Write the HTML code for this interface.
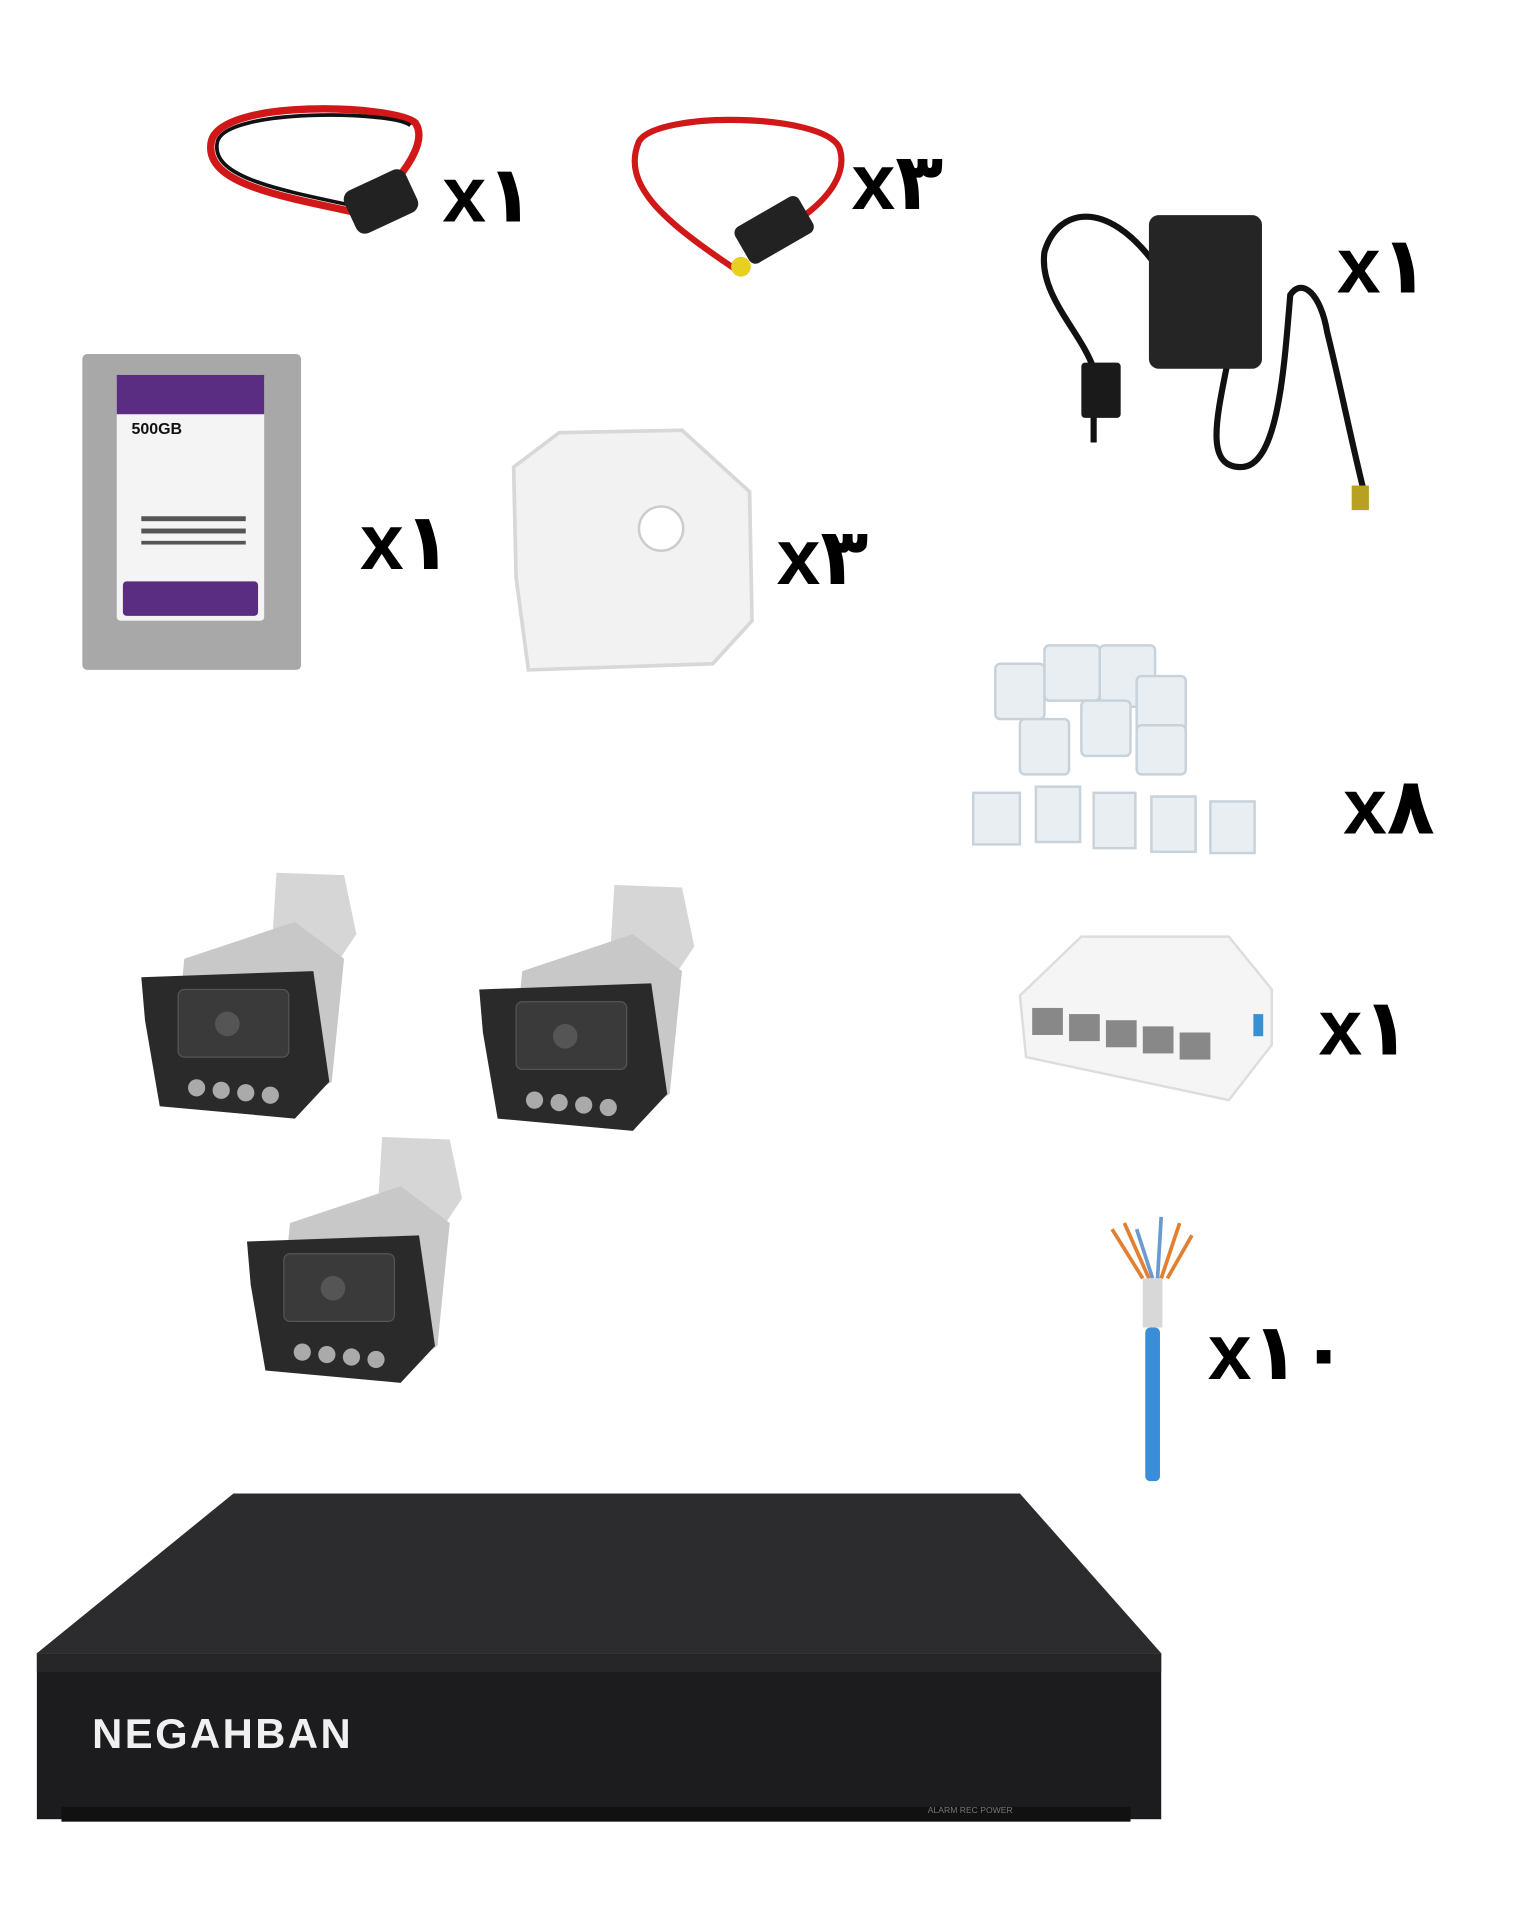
<!DOCTYPE html>
<html><head><meta charset="utf-8"><style>
html,body{margin:0;padding:0;background:#fff;}
svg{display:block;}
.q{font-family:"Liberation Sans","DejaVu Sans",sans-serif;font-weight:bold;font-size:64px;fill:#000;}
</style></head><body>
<svg width="1536" height="1920" viewBox="0 0 1250 1562" preserveAspectRatio="none" xmlns="http://www.w3.org/2000/svg">
<rect width="1250" height="1562" fill="#fff"/>
<!-- cable 1 -->
<path d="M300,175 C230,160 165,150 172,115 C180,80 320,85 338,100 C348,115 330,140 310,160" fill="none" stroke="#d01818" stroke-width="6"/>
<path d="M300,170 C230,155 170,145 177,115 C185,88 318,90 334,102" fill="none" stroke="#111" stroke-width="3"/>
<rect x="283" y="145" width="55" height="38" rx="8" fill="#222" transform="rotate(-25 310 165)"/>
<text x="360" y="180" class="q">x۱</text>
<!-- cable 2 -->
<path d="M600,220 C540,180 505,150 520,115 C535,90 670,92 683,120 C690,140 675,160 655,175" fill="none" stroke="#d01818" stroke-width="5"/>
<rect x="600" y="170" width="60" height="34" rx="6" fill="#222" transform="rotate(-30 630 187)"/>
<circle cx="603" cy="217" r="8" fill="#e8d020"/>
<text x="693" y="170" class="q">x۳</text>
<!-- adapter -->
<path d="M940,215 C900,160 860,170 850,205 C845,240 880,270 890,300 L890,360" fill="none" stroke="#111" stroke-width="5"/>
<path d="M1000,290 C990,340 980,380 1010,380 C1040,380 1045,300 1050,240 C1060,225 1075,240 1080,270 C1090,310 1100,360 1110,400" fill="none" stroke="#111" stroke-width="5"/>
<rect x="935" y="175" width="92" height="125" rx="8" fill="#252525"/>
<rect x="880" y="295" width="32" height="45" rx="3" fill="#1a1a1a"/>
<rect x="1100" y="395" width="14" height="20" fill="#b8a020"/>
<text x="1088" y="238" class="q">x۱</text>
<!-- HDD -->
<rect x="67" y="288" width="178" height="257" rx="4" fill="#a8a8a8"/>
<rect x="95" y="305" width="120" height="200" rx="3" fill="#f4f4f4"/>
<rect x="95" y="305" width="120" height="32" fill="#5b2d82"/>
<rect x="100" y="473" width="110" height="28" rx="3" fill="#5b2d82"/>
<text x="107" y="353" font-family="Liberation Sans" font-weight="bold" font-size="13" fill="#111">500GB</text>
<g fill="#555"><rect x="115" y="420" width="85" height="4"/><rect x="115" y="430" width="85" height="4"/><rect x="115" y="440" width="85" height="3"/></g>
<text x="293" y="463" class="q">x۱</text>
<!-- cambox -->
<polygon points="455,352 555,350 610,400 612,505 580,540 430,545 420,470 418,380" fill="#f2f2f2" stroke="#d8d8d8" stroke-width="3"/>
<circle cx="538" cy="430" r="18" fill="#fff" stroke="#ccc" stroke-width="2"/>
<text x="632" y="475" class="q">x۳</text>
<!-- rj45 -->
<g fill="#e8eef2" stroke="#c8d2da" stroke-width="2">
<rect x="810" y="540" width="40" height="45" rx="4"/><rect x="850" y="525" width="45" height="45" rx="4"/><rect x="895" y="525" width="45" height="50" rx="4"/><rect x="925" y="550" width="40" height="45" rx="4"/><rect x="830" y="585" width="40" height="45" rx="4"/><rect x="880" y="570" width="40" height="45" rx="4"/><rect x="925" y="590" width="40" height="40" rx="4"/>
<rect x="792" y="645" width="38" height="42"/><rect x="843" y="640" width="36" height="45"/><rect x="890" y="645" width="34" height="45"/><rect x="937" y="648" width="36" height="45"/><rect x="985" y="652" width="36" height="42"/>
</g>
<text x="1093" y="678" class="q">x۸</text>
<!-- switch -->
<polygon points="830,810 880,762 1000,762 1035,805 1035,850 1000,895 835,860" fill="#f5f5f5" stroke="#ddd" stroke-width="2"/>
<g fill="#888"><rect x="840" y="820" width="25" height="22"/><rect x="870" y="825" width="25" height="22"/><rect x="900" y="830" width="25" height="22"/><rect x="930" y="835" width="25" height="22"/><rect x="960" y="840" width="25" height="22"/></g>
<rect x="1020" y="825" width="8" height="18" fill="#3a8fd0"/>
<text x="1073" y="858" class="q">x۱</text>
<!-- cameras -->
<g id="cam">
<polygon points="225,710 280,712 290,760 270,790 220,790" fill="#d6d6d6"/>
<polygon points="150,780 240,750 280,780 270,880 230,905 140,880" fill="#c8c8c8"/>
<polygon points="115,795 255,790 268,880 240,910 130,900 118,830" fill="#2a2a2a"/>
<rect x="145" y="805" width="90" height="55" rx="5" fill="#3a3a3a" stroke="#555"/>
<circle cx="185" cy="833" r="10" fill="#555"/>
<g fill="#aaa"><circle cx="160" cy="885" r="7"/><circle cx="180" cy="887" r="7"/><circle cx="200" cy="889" r="7"/><circle cx="220" cy="891" r="7"/></g>
</g>
<use href="#cam" transform="translate(275,10)"/>
<use href="#cam" transform="translate(86,215)"/>
<!-- blue cable -->
<path d="M905,1000 L930,1040 M915,995 L935,1040 M960,995 L945,1040 M970,1005 L950,1040" stroke="#e08030" stroke-width="3"/>
<path d="M925,1000 L938,1040 M945,990 L942,1040" stroke="#6a9ad0" stroke-width="3"/>
<rect x="930" y="1040" width="16" height="40" fill="#d8d8d8"/>
<rect x="932" y="1080" width="12" height="125" rx="4" fill="#3a8ed8"/>
<text x="983" y="1122" class="q">x۱۰</text>
<!-- NVR -->
<polygon points="190,1215 830,1215 945,1345 30,1345" fill="#2c2c2e"/>
<rect x="30" y="1345" width="915" height="135" fill="#1c1c1e"/>
<polygon points="30,1345 945,1345 945,1360 30,1360" fill="#262628"/>
<rect x="50" y="1470" width="870" height="12" fill="#111"/>
<text x="75" y="1422" font-family="Liberation Sans" font-weight="bold" font-size="34" fill="#f0f0f0" letter-spacing="2">NEGAHBAN</text>
<text x="755" y="1475" font-family="Liberation Sans" font-size="7" fill="#777">ALARM   REC   POWER</text>
</svg>
</body></html>
